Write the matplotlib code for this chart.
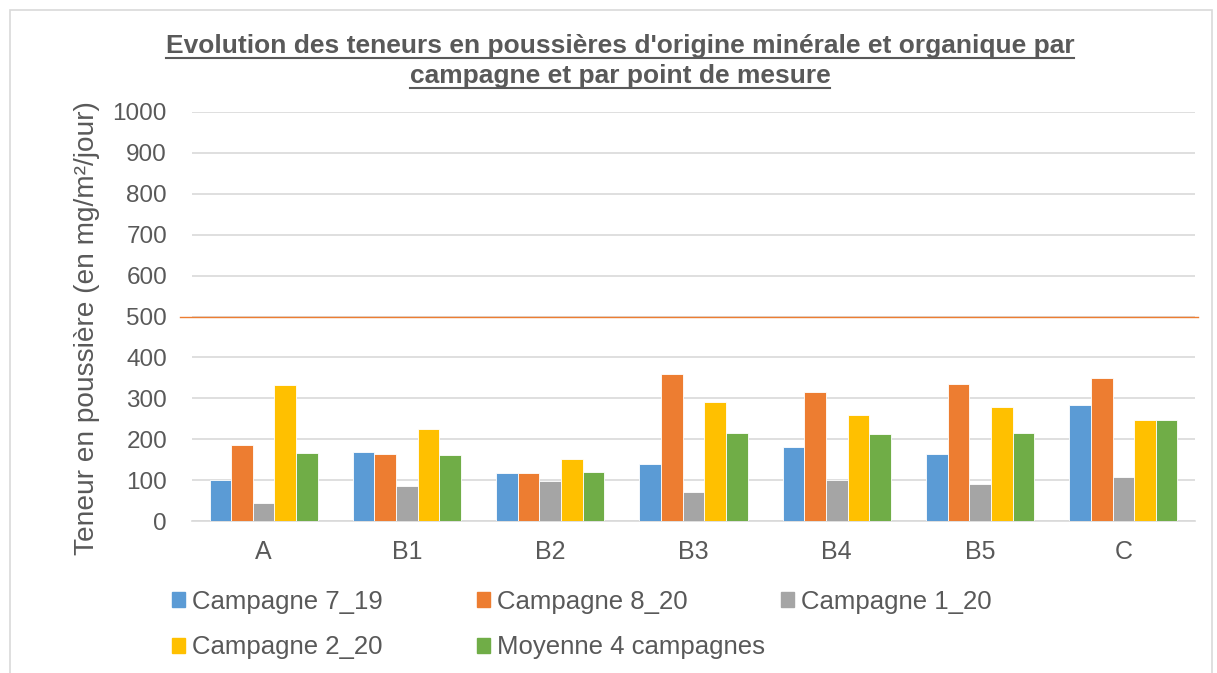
import matplotlib
matplotlib.use("Agg")
import matplotlib.pyplot as plt
from matplotlib.patches import Rectangle, Patch
from matplotlib.lines import Line2D
import numpy as np

plt.rcParams['font.family'] = ['Liberation Sans', 'DejaVu Sans']

categories = ["A", "B1", "B2", "B3", "B4", "B5", "C"]
series_names = ["Campagne 7_19", "Campagne 8_20", "Campagne 1_20", "Campagne 2_20", "Moyenne 4 campagnes"]
camp_7_19 = [100, 168, 118, 139, 181, 163, 283]
camp_8_20 = [186, 165, 118, 359, 315, 335, 349]
camp_1_20 = [43, 86, 98, 70, 100, 90, 108]
camp_2_20 = [332, 225, 152, 290, 259, 279, 247]
moyenne = [166, 161, 121, 214, 213, 216, 247]
seuil = 500
yticks = [0, 100, 200, 300, 400, 500, 600, 700, 800, 900, 1000]
title_lines = ["Evolution des teneurs en poussières d'origine minérale et organique par",
               "campagne et par point de mesure"]
ylabel = "Teneur en poussière (en mg/m²/jour)"

colors = ["#5B9BD5", "#ED7D31", "#A5A5A5", "#FFC000", "#70AD47"]
values = [camp_7_19, camp_8_20, camp_1_20, camp_2_20, moyenne]

W, H = 1217, 673
fig = plt.figure(figsize=(W / 100, H / 100), dpi=100)
fig.patch.set_facecolor("white")

# chart border
fig.patches.append(Rectangle((10 / W, -0.05), 1202 / W, 1 - 10 / H + 0.05,
                             transform=fig.transFigure, fill=False,
                             edgecolor="#D9D9D9", linewidth=1.2))

ax = fig.add_axes([192 / W, 1 - 521 / H, (1195 - 192) / W, (521 - 112) / H])
x = np.arange(len(categories))
bw = 0.151
handles = []
for i, (vals, c, name) in enumerate(zip(values, colors, series_names)):
    ax.bar(x + (i - 2) * bw, vals, width=bw, color=c, edgecolor="white",
           linewidth=0.6, label=name, zorder=3)
    handles.append(Patch(facecolor=c, edgecolor=c, label=name))

ax.set_xlim(-0.5, len(categories) - 0.5)
ax.set_ylim(0, 1000)
ax.set_yticks(yticks)
ax.set_xticks(x)
ax.set_xticklabels(categories)
ax.grid(axis="y", color="#D9D9D9", linewidth=1.2, zorder=0)
ax.set_axisbelow(True)
for s in ["top", "right", "left"]:
    ax.spines[s].set_visible(False)
ax.spines["bottom"].set_color("#D9D9D9")
ax.spines["bottom"].set_linewidth(1.2)
ax.tick_params(axis="both", length=0, labelcolor="#595959")
ax.tick_params(axis="y", pad=18, labelsize=17.5)
ax.tick_params(axis="x", pad=14, labelsize=18)

# threshold line at 500, slightly wider than plot area
ax.axhline(seuil, xmin=-0.012, xmax=1.003, color="#ED7D31", linewidth=1.0,
           zorder=4, clip_on=False)

fig.text(87 / W, 1 - 328 / H, ylabel, rotation=90, ha="center", va="center",
         fontsize=20.2, color="#595959")

# title lines with underline
tcolor = "#595959"
t1 = fig.text(620 / W, 1 - 53.5 / H, title_lines[0], ha="center", va="baseline",
              fontsize=19, fontweight="bold", color=tcolor)
t2 = fig.text(620 / W, 1 - 83.5 / H, title_lines[1], ha="center", va="baseline",
              fontsize=19, fontweight="bold", color=tcolor)
fig.canvas.draw()
r = fig.canvas.get_renderer()
for t, uy in [(t1, 58), (t2, 88)]:
    bb = t.get_window_extent(renderer=r)
    fig.add_artist(Line2D([bb.x0 / W, bb.x1 / W], [1 - uy / H, 1 - uy / H],
                          transform=fig.transFigure, color=tcolor, linewidth=1.5))

# legend in three equally spaced columns
cols = [[0, 3], [1, 4], [2]]
xs = [172, 476.5, 781]
for col, xp in zip(cols, xs):
    fig.legend(handles=[handles[k] for k in col], loc="upper left",
               bbox_to_anchor=(xp / W, 1 - 590 / H), frameon=False,
               fontsize=18.5, handlelength=0.52, handleheight=0.52,
               handletextpad=0.26, labelspacing=0.83, borderaxespad=0,
               borderpad=0, labelcolor="#595959")

fig.savefig("out.png", dpi=100, facecolor="white")
